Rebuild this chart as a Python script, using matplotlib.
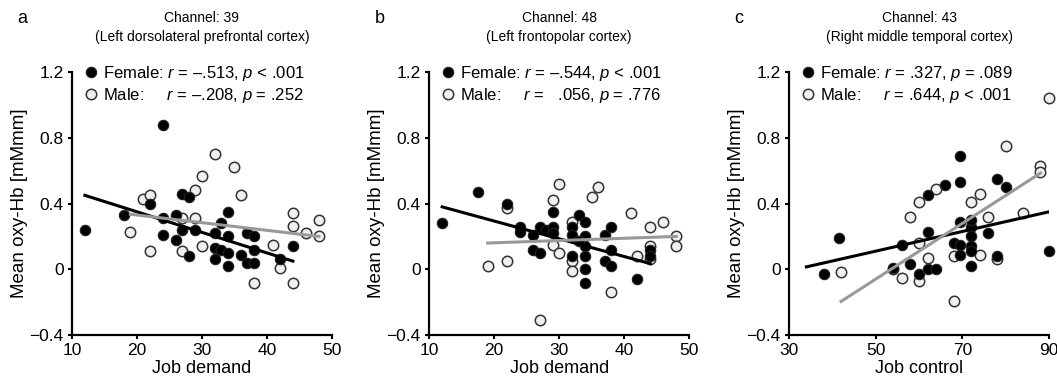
import numpy as np
import matplotlib
matplotlib.use('Agg')
import matplotlib.pyplot as plt

plt.rcParams['font.family'] = ['Liberation Sans', 'DejaVu Sans']
plt.rcParams['mathtext.fontset'] = 'custom'
plt.rcParams['mathtext.rm'] = 'Liberation Sans'
plt.rcParams['mathtext.it'] = 'Liberation Sans:italic'

# panel a: channel 39, job demand
fem_x_a = [12, 18, 24, 22, 24, 24, 26, 27, 28, 26, 27, 28, 29, 32, 33, 34, 32, 32, 33, 34,
           34, 36, 37, 38, 37, 38, 38, 42, 44, 34]
fem_y_a = [0.24, 0.33, 0.88, 0.40, 0.315, 0.21, 0.33, 0.46, 0.44, 0.18, 0.24, 0.08, 0.24, 0.22,
           0.28, 0.35, 0.13, 0.06, 0.12, 0.10, 0.02, 0.09, 0.22, 0.20, 0.04, 0.04, 0.12, 0.06,
           0.14, 0.20]
male_x_a = [19, 21, 22, 22, 27, 27, 29, 29, 30, 30, 32, 35, 36, 38, 41, 42, 44, 44, 44, 46, 48, 48]
male_y_a = [0.23, 0.43, 0.45, 0.11, 0.315, 0.11, 0.48, 0.315, 0.57, 0.14, 0.70, 0.62, 0.45,
            -0.085, 0.15, 0.01, 0.34, 0.265, -0.085, 0.22, 0.30, 0.20]
fit_fem_x_a, fit_fem_y_a = [12, 44], [0.45, 0.05]
fit_male_x_a, fit_male_y_a = [19, 48], [0.335, 0.20]

# panel b: channel 48, job demand
fem_x_b = [12, 17.5, 22, 24, 24, 26, 26, 27, 27, 28, 29, 29, 29, 32, 32, 33, 34, 34, 34, 34,
           34, 34, 32, 37, 37, 38, 38, 38, 42, 44, 44, 33]
fem_y_b = [0.28, 0.47, 0.40, 0.26, 0.23, 0.21, 0.12, 0.10, 0.26, 0.24, 0.35, 0.26, 0.22, 0.26,
           0.21, 0.33, 0.29, 0.20, 0.14, 0.08, 0.00, -0.08, 0.08, 0.21, 0.05, 0.26, 0.12, 0.02,
           -0.06, 0.12, 0.08, 0.17]
male_x_b = [19, 22, 22, 27, 29, 29, 30, 30, 32, 32, 32, 35, 36, 38, 41, 42, 44, 44, 44, 46, 48, 48]
male_y_b = [0.02, 0.37, 0.05, -0.31, 0.42, 0.15, 0.52, 0.10, 0.29, 0.05, -0.01, 0.44, 0.50,
            -0.135, 0.34, 0.08, 0.26, 0.06, 0.14, 0.29, 0.20, 0.14]
fit_fem_x_b, fit_fem_y_b = [12, 44], [0.38, 0.035]
fit_male_x_b, fit_male_y_b = [19, 48], [0.16, 0.20]

# panel c: channel 43, job control
fem_x_c = [38, 41.5, 54, 56, 58, 60, 62, 62, 62, 64, 66, 68, 69.5, 69.5, 69.5, 69.5, 69.5,
           72, 72, 72, 72, 72, 76, 78, 78, 80, 90, 72]
fem_y_c = [-0.03, 0.19, 0.01, 0.15, 0.035, -0.03, 0.23, 0.45, 0.0, 0.0, 0.51, 0.16, 0.69,
           0.53, 0.29, 0.15, 0.09, 0.14, 0.26, 0.20, 0.02, 0.11, 0.22, 0.55, 0.08, 0.50, 0.11, 0.30]
male_x_c = [42, 54, 56, 58, 60, 60, 60, 62, 64, 68, 68, 72, 74, 74, 76, 78, 80, 84, 88, 88, 90]
male_y_c = [-0.015, 0.0, -0.055, 0.32, 0.41, -0.07, 0.16, 0.07, 0.49, 0.08, -0.19, 0.41, 0.46,
            0.09, 0.32, 0.06, 0.75, 0.34, 0.63, 0.59, 1.04]
fit_fem_x_c, fit_fem_y_c = [34, 90], [0.015, 0.35]
fit_male_x_c, fit_male_y_c = [42, 88], [-0.195, 0.585]

panels = [
    ('a', 'Channel: 39\n(Left dorsolateral prefrontal cortex)', 'Job demand', [10, 20, 30, 40, 50],
     fem_x_a, fem_y_a, male_x_a, male_y_a, fit_fem_x_a, fit_fem_y_a, fit_male_x_a, fit_male_y_a,
     'Female: $r$ = \u2013.513, $p$ < .001', 'Male:     $r$ = \u2013.208, $p$ = .252'),
    ('b', 'Channel: 48\n(Left frontopolar cortex)', 'Job demand', [10, 20, 30, 40, 50],
     fem_x_b, fem_y_b, male_x_b, male_y_b, fit_fem_x_b, fit_fem_y_b, fit_male_x_b, fit_male_y_b,
     'Female: $r$ = \u2013.544, $p$ < .001', 'Male:     $r$ =   .056, $p$ = .776'),
    ('c', 'Channel: 43\n(Right middle temporal cortex)', 'Job control', [30, 50, 70, 90],
     fem_x_c, fem_y_c, male_x_c, male_y_c, fit_fem_x_c, fit_fem_y_c, fit_male_x_c, fit_male_y_c,
     'Female: $r$ = .327, $p$ = .089', 'Male:     $r$ = .644, $p$ < .001'),
]
lefts = [0.068, 0.406, 0.7465]

fig = plt.figure(figsize=(10.57, 3.87), dpi=100)
for left, p in zip(lefts, panels):
    (letter, title, xlabel, xticks, fx, fy, mx, my,
     ffx, ffy, fmx, fmy, flab, mlab) = p
    ax = fig.add_axes([left, 0.134, 0.246, 0.68])
    hm, = ax.plot(mx, my, 'o', ms=7.5, mfc='#f0f0f0', mec='#333333', mew=1.1, clip_on=False,
                  label=mlab)
    hf, = ax.plot(fx, fy, 'o', ms=7.5, mfc='black', mec='#222222', mew=0.8, clip_on=False,
                  label=flab)
    ax.plot(ffx, ffy, color='black', lw=2.2)
    ax.plot(fmx, fmy, color='#999999', lw=2.2)
    ax.set_xlim(xticks[0], xticks[-1])
    ax.set_ylim(-0.4, 1.2)
    ax.set_xticks(xticks)
    ax.set_yticks([-0.4, 0, 0.4, 0.8, 1.2])
    ax.set_yticklabels(['\u22120.4', '0', '0.4', '0.8', '1.2'])
    ax.tick_params(labelsize=12.5, width=1.5, length=3, direction='out', pad=3)
    for s in ['top', 'right']:
        ax.spines[s].set_visible(False)
    for s in ['left', 'bottom']:
        ax.spines[s].set_linewidth(1.6)
    ax.set_xlabel(xlabel, fontsize=13, labelpad=1)
    ax.set_ylabel('Mean oxy-Hb [mMmm]', fontsize=13.5, labelpad=1)
    ax.set_title(title, fontsize=10, pad=22, linespacing=1.45)
    ax.text(-0.21, 1.205, letter, transform=ax.transAxes, fontsize=13, va='center', ha='left')
    leg = ax.legend([hf, hm], [flab, mlab], loc='upper left', bbox_to_anchor=(0.055, 1.03),
                    frameon=False, fontsize=12, handlelength=0.6, handletextpad=0.4,
                    labelspacing=0.15, borderpad=0, borderaxespad=0)

plt.savefig('out.png', dpi=100)
